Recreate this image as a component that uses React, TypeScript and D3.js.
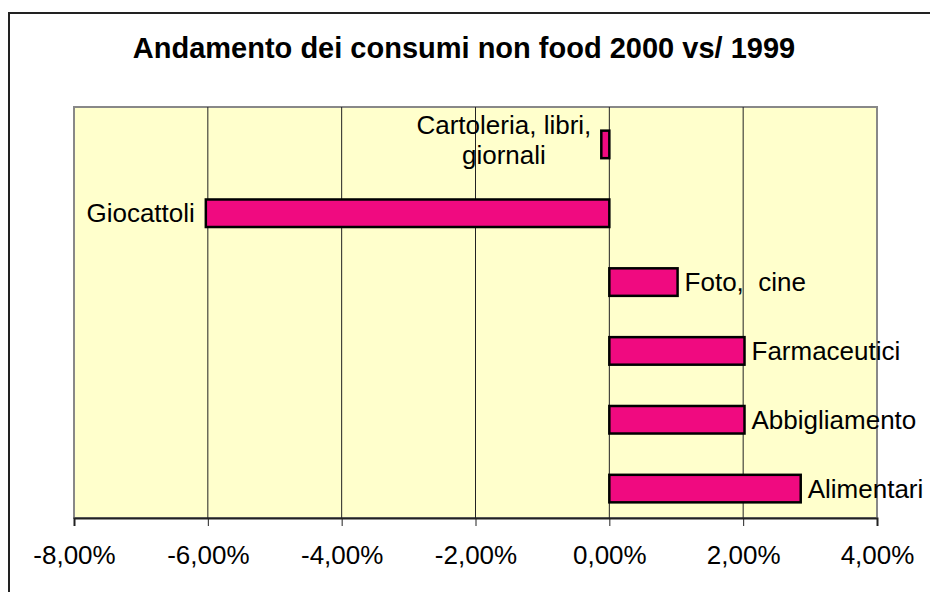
import React, { useEffect, useRef } from 'react';
import * as d3 from 'd3';

// categories from top to bottom, as in the chart
const categories = ['Cartoleria, libri, giornali', 'Giocattoli', 'Foto,  cine', 'Farmaceutici', 'Abbigliamento', 'Alimentari'];
const labelLines = [['Cartoleria, libri,', 'giornali'], ['Giocattoli'], ['Foto,  cine'], ['Farmaceutici'], ['Abbigliamento'], ['Alimentari']];
const values = [-0.0012, -0.0603, 0.0102, 0.0202, 0.0202, 0.0286];
const xTicks = [-0.08, -0.06, -0.04, -0.02, 0, 0.02, 0.04];

const title = 'Andamento dei consumi non food 2000 vs/ 1999';

const W = 930;
const H = 592;
const plot = { left: 74, right: 877, top: 107, bottom: 518 };

const it = d3.formatLocale({
  decimal: ',',
  thousands: '.',
  grouping: [3],
  currency: ['', ' €'],
  minus: '-'
});
const pct = it.format('.2%');

const App: React.FC = () => {
  const svgRef = useRef<SVGSVGElement>(null);

  useEffect(() => {
    if (!svgRef.current) return;
    const svg = d3.select(svgRef.current);
    svg.selectAll('*').remove();

    const font = '"Liberation Sans", Arial, sans-serif';
    const fs = 26;

    // outer chart border (runs off the page on right/bottom)
    svg.append('rect')
      .attr('x', 9).attr('y', 13)
      .attr('width', W + 20).attr('height', H + 20)
      .attr('fill', '#fff')
      .attr('stroke', '#222')
      .attr('stroke-width', 2);

    svg.append('text')
      .attr('x', 464).attr('y', 58)
      .attr('text-anchor', 'middle')
      .attr('font-family', font)
      .attr('font-weight', 'bold')
      .attr('font-size', 29)
      .attr('fill', '#000')
      .text(title);

    const x = d3.scaleLinear().domain([-0.08, 0.04]).range([plot.left, plot.right]);
    const y = d3.scaleBand<string>()
      .domain(categories)
      .range([plot.top + 3, plot.bottom + 5])
      .paddingInner(0.6)
      .paddingOuter(0.3);

    // plot background
    svg.append('rect')
      .attr('x', plot.left).attr('y', plot.top)
      .attr('width', plot.right - plot.left).attr('height', plot.bottom - plot.top)
      .attr('fill', '#ffffcc')
      .attr('stroke', '#888')
      .attr('stroke-width', 2);

    // vertical gridlines
    svg.append('g')
      .selectAll('line')
      .data(xTicks.slice(1, -1))
      .enter()
      .append('line')
      .attr('x1', d => x(d)).attr('x2', d => x(d))
      .attr('y1', plot.top).attr('y2', plot.bottom)
      .attr('stroke', '#222')
      .attr('stroke-width', 1);

    // x axis
    const axis = svg.append('g')
      .attr('transform', `translate(0,${plot.bottom})`)
      .call(d3.axisBottom(x).tickValues(xTicks).tickFormat(d => pct(d as number)).tickSize(8).tickPadding(20));
    axis.select('.domain').attr('stroke', '#222').attr('stroke-width', 2);
    axis.selectAll('.tick line').attr('stroke', '#222');
    axis.selectAll('.tick text')
      .attr('font-family', font)
      .attr('font-size', fs)
      .attr('fill', '#000');

    // bars
    svg.append('g')
      .selectAll('rect')
      .data(values)
      .enter()
      .append('rect')
      .attr('x', d => x(Math.min(0, d)))
      .attr('y', (d, i) => y(categories[i])!)
      .attr('width', d => Math.abs(x(d) - x(0)))
      .attr('height', y.bandwidth())
      .attr('fill', '#f00a80')
      .attr('stroke', '#000')
      .attr('stroke-width', 2.5);

    // category labels at bar ends
    values.forEach((v, i) => {
      const cy = y(categories[i])! + y.bandwidth() / 2;
      const lines = labelLines[i];
      const pos = v >= 0;
      if (lines.length === 1) {
        svg.append('text')
          .attr('x', pos ? x(v) + 7 : x(v) - 11).attr('y', cy)
          .attr('dy', '0.35em')
          .attr('text-anchor', pos ? 'start' : 'end')
          .attr('font-family', font)
          .attr('font-size', fs)
          .attr('xml:space', 'preserve')
          .style('white-space', 'pre')
          .text(lines[0]);
      } else {
        const tx = x(v) - 10;
        const first = svg.append('text')
          .attr('x', tx).attr('y', cy - 10)
          .attr('text-anchor', 'end')
          .attr('font-family', font)
          .attr('font-size', fs)
          .text(lines[0]);
        const w = (first.node() as SVGTextElement).getComputedTextLength();
        svg.append('text')
          .attr('x', tx - w / 2).attr('y', cy + 20)
          .attr('text-anchor', 'middle')
          .attr('font-family', font)
          .attr('font-size', fs)
          .text(lines[1]);
      }
    });
  }, []);

  return (
    <svg
      ref={svgRef}
      width={W}
      height={H}
      style={{ position: 'absolute', left: 0, top: 0, background: '#fff' }}
    />
  );
};

export default App;
